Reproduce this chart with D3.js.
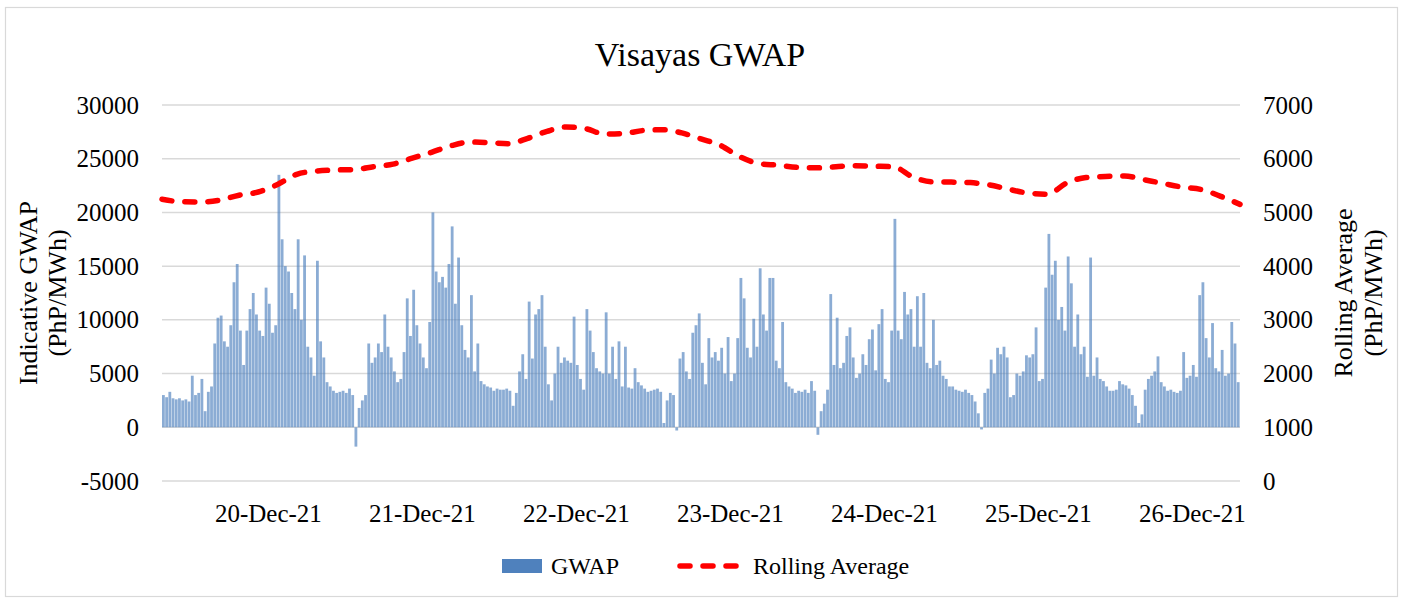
<!DOCTYPE html>
<html lang="en">
<head>
<meta charset="utf-8">
<title>Visayas GWAP</title>
<script src="https://cdn.jsdelivr.net/npm/d3@7"></script>
<style>
  body { margin: 0; background: #fff; }
  text { font-family: "Liberation Serif", "Times New Roman", serif; fill: #000; }
  .tick text { font-size: 25px; }
  .grid line { stroke: #d9d9d9; stroke-width: 1.5px; }
  .legend { font-size: 24px; }
  .atitle { font-size: 26px; text-anchor: middle; }
</style>
</head>
<body>
<script>
// half-hourly GWAP, first bar starts 19-Dec-21 19:30
var startTime = new Date(2021, 11, 19, 19, 30);
var stepMinutes = 30;

var gwap = [
  3000, 2800, 3300, 2700, 2600, 2700, 2500, 2600, 2400, 4800,
  3000, 3200, 4500, 1500, 3300, 3800, 7800, 10200, 10400, 8000,
  7500, 9500, 13500, 15200, 9000, 5800, 9000, 11000, 12500, 10500,
  9000, 8500, 13000, 11500, 8800, 9500, 23500, 17500, 15000, 14500,
  12500, 11000, 17500, 10000, 16000, 7500, 6500, 4800, 15500, 8000,
  6500, 4200, 3800, 3400, 3200, 3300,
  3400, 3200, 3600, 3000, -1800, 1800, 2500, 3000, 7800, 6000,
  6500, 7800, 7000, 10500, 7500, 6500, 5200, 4200, 4500, 7000,
  12000, 8500, 12800, 9500, 7800, 6500, 5500, 9800, 20000, 14500,
  13500, 14000, 13000, 15200, 18700, 11500, 15800, 9500, 7200, 6500,
  12300, 5200, 7800, 4300, 4000, 3800, 3700, 3400, 3600, 3500,
  3500, 3600, 3400, 2000, 3200, 5200,
  6800, 4500, 11700, 6400, 10500, 11000, 12300, 7500, 4000, 2500,
  5000, 7500, 6000, 6500, 6200, 6000, 10300, 5800, 4500, 3500,
  11000, 9000, 7000, 5500, 5200, 5000, 10700, 5000, 7500, 4500,
  8000, 3800, 7500, 3700, 3600, 5500, 4200, 3900, 3600, 3300,
  3400, 3500, 3600, 3300, 400, 2500, 3200, 3000, -300, 6400,
  7000, 5200, 4500, 8800, 9500, 10600,
  6000, 4000, 8300, 6500, 7000, 6200, 7400, 5000, 8400, 4300,
  5000, 8300, 13900, 12000, 7400, 6500, 10100, 7500, 14800, 10500,
  9000, 13900, 13900, 6200, 5500, 9800, 4200, 3800, 3600, 3200,
  3400, 3300, 3500, 3200, 4300, 3400, -700, 1500, 2200, 3500,
  12400, 5800, 10200, 5500, 6000, 8500, 9300, 6500, 4600, 5000,
  6800, 5800, 8200, 9100, 5300, 9600,
  11000, 4500, 4200, 9000, 19400, 9000, 8200, 12600, 10500, 11000,
  7500, 12200, 7500, 12500, 6000, 5500, 10000, 5800, 6200, 4800,
  4500, 3800, 3800, 3500, 3400, 3300, 3500, 3200, 3000, 2400,
  1300, -200, 3200, 3600, 6300, 5000, 7400, 6800, 7500, 6500,
  2800, 3000, 5000, 4800, 5200, 6700, 6500, 6800, 9300, 4300,
  4500, 13000, 18000, 14200, 15500, 10000,
  11200, 9000, 15900, 13400, 7500, 10500, 6800, 7500, 4700, 15800,
  4800, 6500, 4500, 4300, 3800, 3400, 3400, 3500, 4300, 4000,
  3900, 3600, 3000, 2000, 400, 1200, 3500, 4500, 4800, 5200,
  6600, 4200, 3800, 3400, 3500, 3300, 3200, 3400, 7000, 4600,
  4800, 5800, 4700, 12300, 13500, 8300, 6500, 9700, 5500, 5200,
  7200, 4800, 5000, 9800, 7800, 4200
];

// rolling average, one point every 3 hours from startTime
var rollingStepHours = 3;
var rollingAvg = [
  5245, 5200, 5195, 5230, 5320, 5380, 5520, 5710, 5770, 5790,
  5800, 5850, 5900, 6010, 6120, 6240, 6310, 6300, 6280, 6380,
  6510, 6590, 6560, 6460, 6470, 6525, 6540, 6480, 6370, 6250,
  6040, 5910, 5880, 5840, 5830, 5850, 5870, 5860, 5850, 5660,
  5570, 5565, 5555, 5510, 5430, 5360, 5340, 5550, 5650, 5670,
  5680, 5610, 5540, 5470, 5425, 5300, 5150
];

var dayLabels = ["2021-12-20", "2021-12-21", "2021-12-22", "2021-12-23", "2021-12-24", "2021-12-25", "2021-12-26"];
var leftTicks = [-5000, 0, 5000, 10000, 15000, 20000, 25000, 30000];
var rightTicks = [0, 1000, 2000, 3000, 4000, 5000, 6000, 7000];

var W = 1405, H = 601;
var plotL = 162, plotR = 1240, plotT = 105, plotB = 481;

var svg = d3.select("body").append("svg").attr("width", W).attr("height", H);

// chart border
svg.append("rect").attr("x", 5.5).attr("y", 7.5).attr("width", 1392).attr("height", 589)
   .attr("fill", "none").attr("stroke", "#d9d9d9").attr("stroke-width", 1.2);

var ms = 60000;
var endTime = new Date(startTime.getTime() + gwap.length * stepMinutes * ms);
var x = d3.scaleTime().domain([startTime, endTime]).range([plotL, plotR]);
var yL = d3.scaleLinear().domain([-5000, 30000]).range([plotB, plotT]);
var yR = d3.scaleLinear().domain([0, 7000]).range([plotB, plotT]);

// gridlines
svg.append("g").attr("class", "grid").selectAll("line").data(leftTicks).enter().append("line")
   .attr("x1", plotL).attr("x2", plotR)
   .attr("y1", function(d) { return yL(d); }).attr("y2", function(d) { return yL(d); });

// bars
var barT = function(i) { return new Date(startTime.getTime() + i * stepMinutes * ms); };
svg.append("g").selectAll("rect").data(gwap).enter().append("rect")
   .attr("x", function(d, i) { return x(barT(i)); })
   .attr("width", function(d, i) { return x(barT(i + 1)) - x(barT(i)) - 0.4; })
   .attr("y", function(d) { return yL(Math.max(0, d)); })
   .attr("height", function(d) { return Math.abs(yL(d) - yL(0)); })
   .attr("fill", "#4f81bd").attr("fill-opacity", 0.66);

// rolling average
var line = d3.line()
   .x(function(d, i) { return x(new Date(startTime.getTime() + i * rollingStepHours * 60 * ms)); })
   .y(function(d) { return yR(d); })
   .curve(d3.curveMonotoneX);
svg.append("path").datum(rollingAvg).attr("d", line)
   .attr("fill", "none").attr("stroke", "#ff0000").attr("stroke-width", 5.5)
   .attr("stroke-linecap", "round").attr("stroke-dasharray", "10 13");

// axes
var fmtNum = function(d) { return String(d); };
var xAxis = d3.axisBottom(x)
   .tickValues(dayLabels.map(function(s) { var p = s.split("-"); return new Date(+p[0], +p[1] - 1, +p[2], 12); }))
   .tickFormat(d3.timeFormat("%d-%b-%y")).tickSize(0).tickPadding(23);
svg.append("g").attr("transform", "translate(0," + plotB + ")").call(xAxis)
   .call(function(g) { g.select(".domain").remove(); });

svg.append("g").attr("transform", "translate(" + plotL + ",0)")
   .call(d3.axisLeft(yL).tickValues(leftTicks).tickFormat(fmtNum).tickSize(0).tickPadding(23))
   .call(function(g) { g.select(".domain").remove(); });

svg.append("g").attr("transform", "translate(" + plotR + ",0)")
   .call(d3.axisRight(yR).tickValues(rightTicks).tickFormat(fmtNum).tickSize(0).tickPadding(23))
   .call(function(g) { g.select(".domain").remove(); });

svg.selectAll(".tick text").attr("font-family", null);

// title
svg.append("text").attr("x", 700).attr("y", 66).attr("text-anchor", "middle")
   .style("font-size", "34px").text("Visayas GWAP");

// axis titles
function vTitle(cx, txt) {
  svg.append("text").attr("class", "atitle")
     .attr("transform", "translate(" + cx + ",293) rotate(-90)")
     .attr("dy", "0.35em").text(txt);
}
vTitle(28, "Indicative GWAP");
vTitle(57, "(PhP/MWh)");
vTitle(1343, "Rolling Average");
vTitle(1373, "(PhP/MWh)");

// legend
var ly = 566;
svg.append("rect").attr("x", 502).attr("y", ly - 7).attr("width", 40).attr("height", 14).attr("fill", "#4f81bd");
svg.append("text").attr("class", "legend").attr("x", 551).attr("y", ly).attr("dy", "0.35em").text("GWAP");
svg.append("line").attr("x1", 680).attr("x2", 738).attr("y1", ly).attr("y2", ly)
   .attr("stroke", "#ff0000").attr("stroke-width", 5.5).attr("stroke-linecap", "round").attr("stroke-dasharray", "10 13");
svg.append("text").attr("class", "legend").attr("x", 753).attr("y", ly).attr("dy", "0.35em").text("Rolling Average");
</script>
</body>
</html>
